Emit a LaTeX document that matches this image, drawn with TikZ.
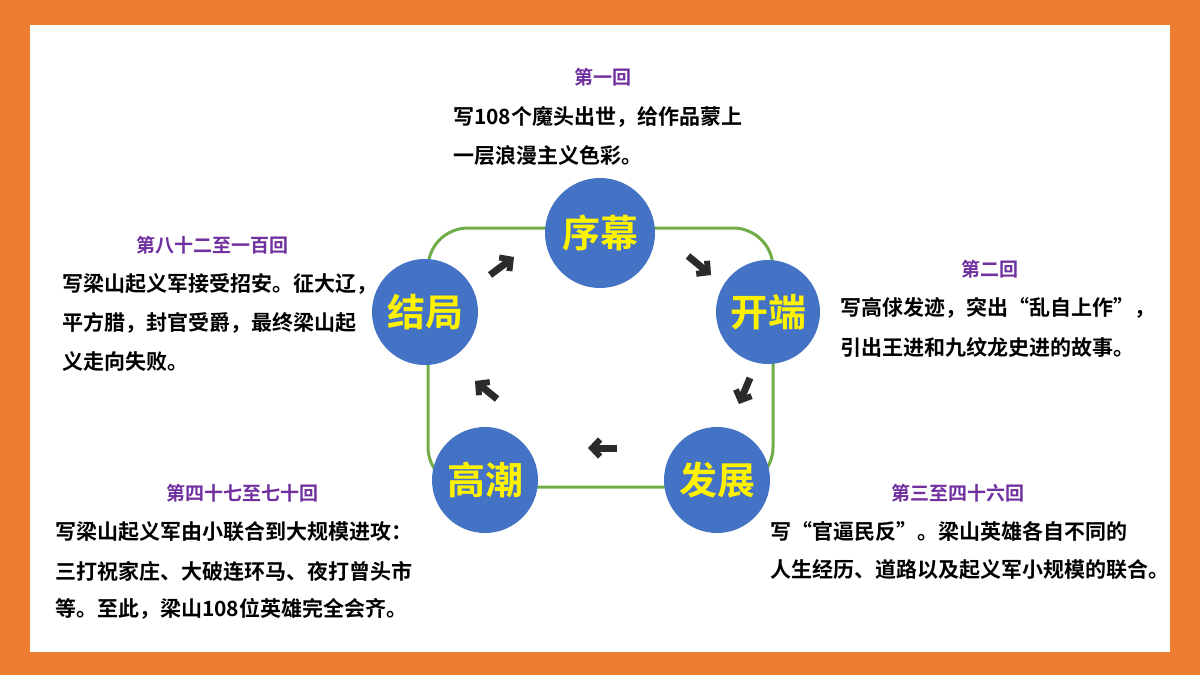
\documentclass[tikz,border=0pt]{standalone}
\usepackage{fontspec}
\newfontfamily\cjk{Noto Sans CJK SC}[BoldFont={Noto Sans CJK SC Bold}]
\usetikzlibrary{arrows.meta}
\definecolor{bgor}{HTML}{ED7D31}
\definecolor{cblue}{HTML}{4472C4}
\definecolor{gline}{HTML}{70AD47}
\definecolor{ttl}{HTML}{7030A0}
\definecolor{ark}{HTML}{2B2B2B}
\begin{document}
\begin{tikzpicture}[x=1pt,y=-1pt,
  circ/.style={circle,fill=cblue,minimum size=110pt,inner sep=0pt,text=yellow,font=\cjk\bfseries\fontsize{38}{38}\selectfont},
  ttl/.style={text=ttl,font=\cjk\bfseries\fontsize{19}{19}\selectfont,inner sep=0pt},
  bd/.style={anchor=west,font=\cjk\bfseries\fontsize{21}{21}\selectfont,inner sep=0pt},
  ar/.style={ark,line width=7pt,-{Straight Barb[length=8pt,width=17pt,line width=6pt]}}]
\useasboundingbox (0,0) rectangle (1200,675);
\fill[bgor] (0,0) rectangle (1200,675);
\fill[white] (30,25) rectangle (1170,652);
\draw[gline,line width=3pt,rounded corners=40pt] (428,228) rectangle (773,487);
\node[circ] (c1) at (600,233) {序幕};
\node[circ,minimum size=104pt] (c2) at (768,312) {开端};
\node[circ,minimum size=106pt] (c3) at (717,480) {发展};
\node[circ,minimum size=106pt] (c4) at (485,480) {高潮};
\node[circ,minimum size=106pt] (c5) at (425,312) {结局};
\coordinate (a1s) at (490,275); \coordinate (a1e) at (514,257);
\coordinate (a2s) at (688,256); \coordinate (a2e) at (711,275);
\coordinate (a3s) at (750,378); \coordinate (a3e) at (739,404);
\coordinate (a4s) at (617,448); \coordinate (a4e) at (588,448);
\coordinate (a5s) at (497,399); \coordinate (a5e) at (475,381);
\draw[ar] (a1s) -- (a1e);
\draw[ar] (a2s) -- (a2e);
\draw[ar] (a3s) -- (a3e);
\draw[ar] (a4s) -- (a4e);
\draw[ar] (a5s) -- (a5e);
\node[ttl] (t1) at (603,77) {第一回};
\node[bd] (b11) at (453,117) {写108个魔头出世，给作品蒙上};
\node[bd] (b12) at (453,156) {一层浪漫主义色彩。};
\node[ttl] (t2) at (990,269) {第二回};
\node[bd] (b21) at (840,308) {写高俅发迹，突出“乱自上作”，};
\node[bd] (b22) at (840,347) {引出王进和九纹龙史进的故事。};
\node[ttl] (t3) at (958,493) {第三至四十六回};
\node[bd] (b31) at (770,531) {写“官逼民反”。梁山英雄各自不同的};
\node[bd] (b32) at (770,570) {人生经历、道路以及起义军小规模的联合。};
\node[ttl] (t4) at (242,493) {第四十七至七十回};
\node[bd] (b41) at (55,532) {写梁山起义军由小联合到大规模进攻：};
\node[bd] (b42) at (55,571) {三打祝家庄、大破连环马、夜打曾头市};
\node[bd] (b43) at (55,609) {等。至此，梁山108位英雄完全会齐。};
\node[ttl] (t5) at (212,245) {第八十二至一百回};
\node[bd] (b51) at (62,284) {写梁山起义军接受招安。征大辽，};
\node[bd] (b52) at (62,323) {平方腊，封官受爵，最终梁山起};
\node[bd] (b53) at (62,362) {义走向失败。};
\end{tikzpicture}
\end{document}
